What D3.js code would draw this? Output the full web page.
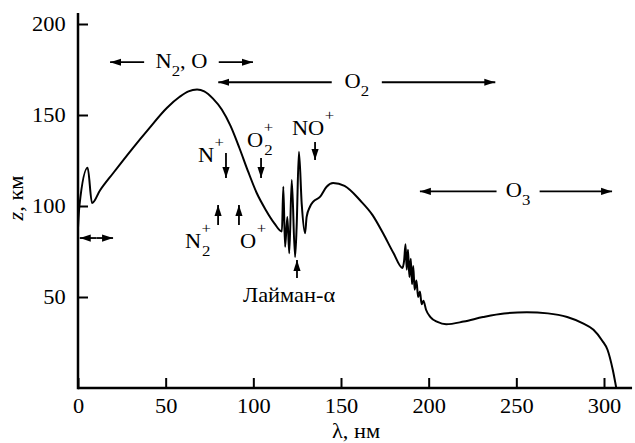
<!DOCTYPE html>
<html>
<head>
<meta charset="utf-8">
<script src="https://cdn.jsdelivr.net/npm/d3@7"></script>
<style>
  body { margin: 0; background: #fff; }
</style>
</head>
<body>
<svg id="chart" width="635" height="443"></svg>
<script>
// absorption altitude z (km) vs wavelength lambda (nm)
const lambda = [0, 0.8, 5.5, 8, 12.5, 20, 31.4, 40, 50.8, 58, 63, 67.9, 72, 77, 82, 87,
  92, 97, 102, 107, 112, 116.3,
  117.1, 118.1, 119.4, 120.5, 121.9, 123.8, 124.7, 126, 127.6, 129.5, 130.4, 132.3, 134.2,
  138, 141.8, 145.5, 152, 161, 168, 174, 180, 185,
  186, 186.8, 187.5, 188.2, 189, 189.8, 190.5, 191.2, 192, 193, 194, 195, 196, 197, 198.5,
  201, 205, 210, 220, 231, 243, 256, 268, 279, 288, 294, 299, 302, 305, 307];
const z = [88, 100, 121, 101.6, 108.5, 118, 132, 142, 154, 160, 163, 164, 163, 159, 153, 144,
  132, 119, 107, 98, 90.5, 86,
  110.6, 77.6, 94, 74, 114.3, 72, 88.6, 129.8, 101, 85, 94, 99.6, 102.4,
  105, 110.6, 112.6, 111, 103, 95, 85, 74, 66,
  70, 79, 65, 76, 61, 71, 57, 67, 54, 59, 50, 53, 46, 48, 43,
  39, 36.3, 35, 36.5, 39, 41, 41.6, 41, 39, 35.5, 32, 26, 21, 10, 0];

const xTicks = [0, 50, 100, 150, 200, 250, 300];
const yTicks = [50, 100, 150, 200];

// absorber bands: [from, to] in nm, at altitude bandZ, label gap bandGap
const bandNames = [["N", "2", ", O"], ["O", "2", ""], ["O", "3", ""], ["", "", ""]];
const bandFrom = [18.3, 80, 195, 1];
const bandTo = [99.8, 238, 304.6, 20];
const bandZ = [179, 168, 108, 82.4];
const bandGap = [[40, 78], [147, 171], [241, 261], null];

// ions: label, sub, sup, label start (nm), label baseline (km), arrow lambda, arrow tail z, arrow head z
const ionMain = ["N", "O", "NO", "N", "O", "Лайман-α"];
const ionSub = ["", "2", "", "2", "", ""];
const ionSup = ["+", "+", "+", "+", "+", ""];
const ionLabelX = [68.4, 96.4, 122, 61, 92.4, 94.1];
const ionLabelZ = [124.2, 132.4, 139, 76.9, 76.9, 47.3];
const ionArrowX = [84.4, 104.4, 135.2, 79.9, 91.8, 124.9];
const ionTail = [129.1, 126.4, 135.2, 89.6, 89.6, 60.4];
const ionHead = [115.4, 115.4, 125.3, 100.5, 100.5, 70.3];

const svg = d3.select("#chart");
const SX = 1.12; // the scan's lettering is a bit wider than Times
const FONT = "'Liberation Serif', 'Times New Roman', serif";

const x = d3.scaleLinear().domain([0, 300]).range([78, 604]);
const y = d3.scaleLinear().domain([0, 200]).range([388, 24]);

// arrow head
svg.append("defs").append("marker")
  .attr("id", "head")
  .attr("markerUnits", "userSpaceOnUse")
  .attr("viewBox", "0 -4 11 8")
  .attr("refX", 11).attr("refY", 0)
  .attr("markerWidth", 11).attr("markerHeight", 8)
  .attr("orient", "auto")
  .append("path")
  .attr("d", "M0,-3.6L11,0L0,3.6Z")
  .attr("fill", "#000");

function txt(g, px, py, s, size, anchor) {
  return g.append("text")
    .attr("transform", `translate(${px},${py}) scale(${SX},1)`)
    .attr("text-anchor", anchor || "start")
    .attr("font-family", FONT)
    .attr("font-size", size)
    .text(s);
}

function arrow(g, x1, y1, x2, y2) {
  g.append("line")
    .attr("x1", x1).attr("y1", y1).attr("x2", x2).attr("y2", y2)
    .attr("stroke", "#000").attr("stroke-width", 1.8)
    .attr("marker-end", "url(#head)");
}

// axes
const xAxis = d3.axisBottom(x).tickValues(xTicks).tickSizeInner(-10).tickSizeOuter(0).tickPadding(11);
const yAxis = d3.axisLeft(y).tickValues(yTicks).tickSizeInner(-10).tickSizeOuter(0).tickPadding(11);

const gx = svg.append("g").attr("transform", `translate(0,${y(0)})`).call(xAxis);
const gy = svg.append("g").attr("transform", `translate(${x(0)},0)`).call(yAxis);

[gx, gy].forEach(g => {
  g.attr("font-family", FONT).attr("font-size", 20);
  g.select(".domain").remove();
  g.selectAll(".tick line").attr("stroke", "#000").attr("stroke-width", 2);
  g.selectAll(".tick text")
    .attr("fill", "#000")
    .attr("transform", `scale(${SX},1)`);
});

svg.append("line")
  .attr("x1", x(0)).attr("x2", x(316)).attr("y1", y(0)).attr("y2", y(0))
  .attr("stroke", "#000").attr("stroke-width", 2.5);
svg.append("line")
  .attr("x1", x(0)).attr("x2", x(0)).attr("y1", y(0) + 1.2).attr("y2", y(206))
  .attr("stroke", "#000").attr("stroke-width", 2.5);

// axis titles
const yl = svg.append("text")
  .attr("transform", `translate(23,198) rotate(-90) scale(${SX},1)`)
  .attr("text-anchor", "middle")
  .attr("font-family", FONT)
  .attr("font-size", 20);
yl.append("tspan").attr("font-style", "italic").text("z");
yl.append("tspan").text(", км");

txt(svg, 356, 438, "λ, нм", 20, "middle");

// the curve
const line = d3.line()
  .x((d, i) => x(lambda[i]))
  .y((d, i) => y(z[i]))
  .curve(d3.curveMonotoneX);

svg.append("path")
  .attr("d", line(z))
  .attr("fill", "none")
  .attr("stroke", "#000")
  .attr("stroke-width", 2)
  .attr("stroke-linejoin", "round");

// absorber bands
const ann = svg.append("g");
bandFrom.forEach((f, i) => {
  const yy = y(bandZ[i]);
  const gap = bandGap[i];
  if (gap) {
    arrow(ann, x(gap[0]) - 4, yy, x(f), yy);
    arrow(ann, x(gap[1]) + 4, yy, x(bandTo[i]), yy);
    const t = ann.append("text")
      .attr("transform", `translate(${x((gap[0] + gap[1]) / 2)},${yy + 6}) scale(${SX},1)`)
      .attr("text-anchor", "middle")
      .attr("font-family", FONT)
      .attr("font-size", 20);
    t.append("tspan").text(bandNames[i][0]);
    t.append("tspan").attr("dy", 8).attr("font-size", 15).text(bandNames[i][1]);
    if (bandNames[i][2]) t.append("tspan").attr("dy", -8).text(bandNames[i][2]);
  } else {
    const mid = (x(f) + x(bandTo[i])) / 2;
    arrow(ann, mid, yy, x(f), yy);
    arrow(ann, mid, yy, x(bandTo[i]), yy);
  }
});

// ions
ionMain.forEach((m, i) => {
  const px = x(ionLabelX[i]), py = y(ionLabelZ[i]);
  const t = txt(ann, px, py, m, 20);
  const w = t.node().getComputedTextLength() * SX;
  if (ionSup[i]) txt(ann, px + w + 0.5, py - 15, ionSup[i], 15);
  if (ionSub[i]) txt(ann, px + w + 1, py + 8, ionSub[i], 15);
  arrow(ann, x(ionArrowX[i]), y(ionTail[i]), x(ionArrowX[i]), y(ionHead[i]));
});
</script>
</body>
</html>
